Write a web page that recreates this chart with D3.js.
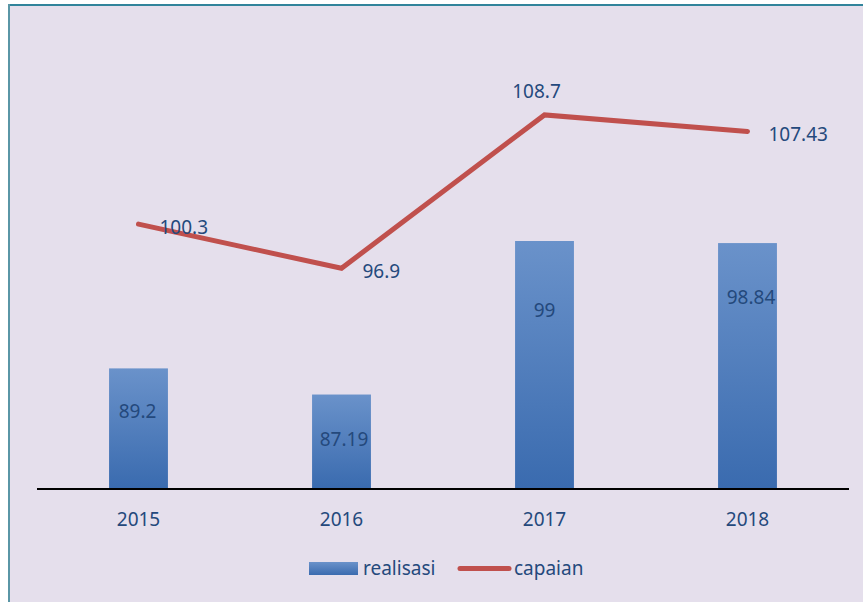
<!DOCTYPE html>
<html>
<head>
<meta charset="utf-8">
<script src="https://cdn.jsdelivr.net/npm/d3@7"></script>
<style>
  html, body { margin: 0; padding: 0; background: #ffffff; }
  svg { display: block; }
  text { font-family: "Noto Sans", "Open Sans", sans-serif; }
</style>
</head>
<body>
<svg id="chart" width="863" height="602"></svg>
<script>
// ---- data ----
const categories = ["2015", "2016", "2017", "2018"];
const realisasi = [89.2, 87.19, 99, 98.84];
const capaian = [100.3, 96.9, 108.7, 107.43];
const seriesNames = ["realisasi", "capaian"];

// ---- label placement (styling only) ----
const barLabelDy = [50, 51, 76, 61];
const barLabelDx = [-1, 2.5, 0, 3.5];
const lineLabelPos = ["right", "right", "above", "right"];

const W = 863, H = 602;
const svg = d3.select("#chart");
const textColor = "#24497c";

// background / frame
svg.append("rect").attr("x", 9).attr("y", 5).attr("width", W).attr("height", H)
  .attr("fill", "#E5DFEC");
svg.append("line").attr("x1", 8).attr("x2", W).attr("y1", 5).attr("y2", 5)
  .attr("stroke", "#31849B").attr("stroke-width", 2);
svg.append("line").attr("x1", 9).attr("x2", 9).attr("y1", 4).attr("y2", H)
  .attr("stroke", "#5a96a6").attr("stroke-width", 2);

// gradient
const defs = svg.append("defs");
const grad = defs.append("linearGradient").attr("id", "barGrad")
  .attr("x1", 0).attr("y1", 0).attr("x2", 0).attr("y2", 1);
grad.append("stop").attr("offset", "0%").attr("stop-color", "#6A92CA");
grad.append("stop").attr("offset", "100%").attr("stop-color", "#3A6BAF");

// scales
const x = d3.scaleBand().domain(categories).range([37, 849]).paddingInner(0.71).paddingOuter(0.355);
const y = d3.scaleLinear().domain([80, 110]).range([488, 98]);
const cx = c => x(c) + x.bandwidth() / 2;

// bars
svg.append("g").selectAll("rect").data(categories).join("rect")
  .attr("x", c => x(c))
  .attr("y", (c, i) => y(realisasi[i]))
  .attr("width", x.bandwidth())
  .attr("height", (c, i) => y(80) - y(realisasi[i]))
  .attr("fill", "url(#barGrad)");

// bar labels
svg.append("g").selectAll("text").data(categories).join("text")
  .attr("x", (c, i) => cx(c) + barLabelDx[i])
  .attr("y", (c, i) => y(realisasi[i]) + barLabelDy[i])
  .attr("text-anchor", "middle")
  .attr("font-size", 19)
  .attr("fill", textColor)
  .text((c, i) => realisasi[i]);

// x axis
const xAxis = svg.append("g").attr("transform", "translate(0,489)")
  .call(d3.axisBottom(x).tickSize(0).tickPadding(0));
xAxis.select(".domain").attr("d", "M37,0H849").attr("stroke", "#000").attr("stroke-width", 2);
xAxis.selectAll(".tick text")
  .attr("y", 37).attr("dy", 0)
  .attr("font-size", 19)
  .attr("font-family", "Noto Sans, Open Sans, sans-serif")
  .attr("fill", textColor);

// line
const line = d3.line().x((d, i) => cx(categories[i])).y(d => y(d));
svg.append("path").datum(capaian)
  .attr("d", line)
  .attr("fill", "none")
  .attr("stroke", "#C0504D")
  .attr("stroke-width", 5)
  .attr("stroke-linecap", "round")
  .attr("stroke-linejoin", "miter");

// line labels
svg.append("g").selectAll("text").data(capaian).join("text")
  .attr("x", (d, i) => lineLabelPos[i] === "right" ? cx(categories[i]) + 21 : cx(categories[i]) - 8)
  .attr("y", (d, i) => lineLabelPos[i] === "right" ? y(d) + 10 : y(d) - 17)
  .attr("text-anchor", (d, i) => lineLabelPos[i] === "right" ? "start" : "middle")
  .attr("font-size", 19)
  .attr("fill", textColor)
  .text(d => d);

// legend
const leg = svg.append("g");
leg.append("rect").attr("x", 309).attr("y", 562).attr("width", 49).attr("height", 13)
  .attr("fill", "url(#barGrad)");
leg.append("text").attr("x", 363).attr("y", 575).attr("font-size", 19).attr("fill", textColor)
  .text(seriesNames[0]);
leg.append("line").attr("x1", 460).attr("x2", 509).attr("y1", 568.5).attr("y2", 568.5)
  .attr("stroke", "#C0504D").attr("stroke-width", 5).attr("stroke-linecap", "round");
leg.append("text").attr("x", 514).attr("y", 575).attr("font-size", 19).attr("fill", textColor)
  .text(seriesNames[1]);
</script>
</body>
</html>
